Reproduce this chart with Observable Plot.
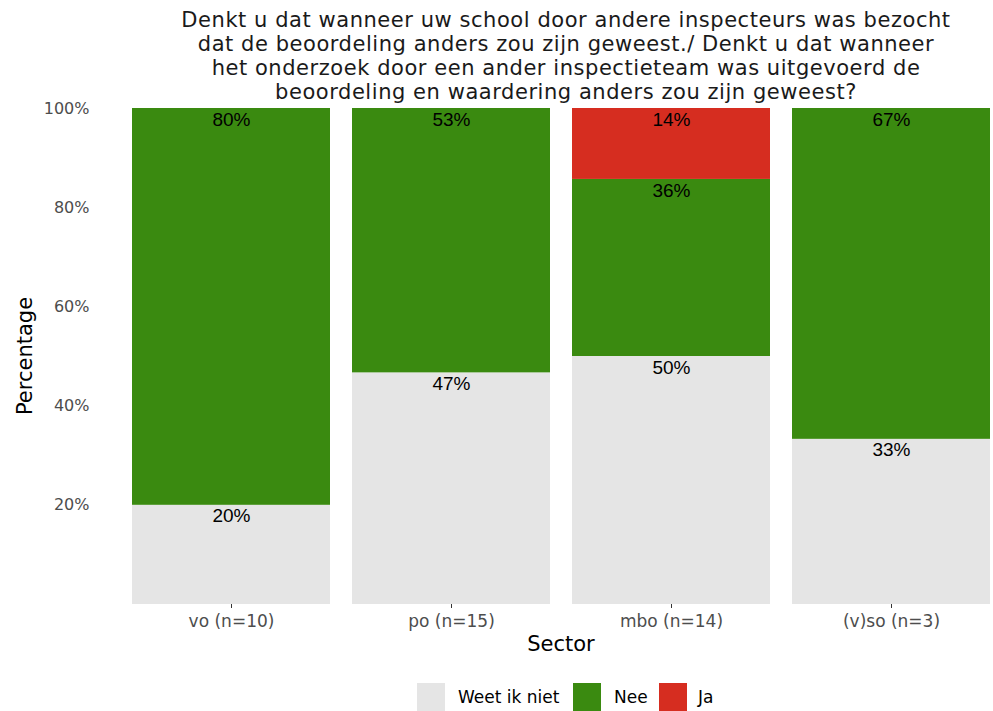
<!DOCTYPE html>
<html>
<head>
<meta charset="utf-8">
<script src="https://cdn.jsdelivr.net/npm/d3@7"></script>
<script src="https://cdn.jsdelivr.net/npm/@observablehq/plot@0.6"></script>
<style>
  html, body { margin: 0; padding: 0; background: #fff; }
  #wrap { position: relative; width: 993px; height: 711px; overflow: hidden; font-family: "DejaVu Sans", Verdana, sans-serif; }
  #title { position: absolute; z-index: 2; left: 131px; width: 870px; top: 8px; text-align: center; font-size: 21px; letter-spacing: 0.55px; line-height: 24px; color: #1a1a1a; white-space: nowrap; }
  #chart { position: absolute; left: 0; top: 100px; z-index: 1; }
  .axlab { position: absolute; font-size: 21px; color: #000; z-index: 2; }
  #legend { position: absolute; top: 683px; left: 0; width: 993px; height: 28px; }
  .key { position: absolute; top: 0; width: 28px; height: 28px; }
  .ktxt { position: absolute; top: 0; line-height: 28px; font-size: 17px; color: #000; }
</style>
</head>
<body>
<div id="wrap">
  <div id="title">Denkt u dat wanneer uw school door andere inspecteurs was bezocht<br>dat de beoordeling anders zou zijn geweest./ Denkt u dat wanneer<br>het onderzoek door een ander inspectieteam was uitgevoerd de<br>beoordeling en waardering anders zou zijn geweest?</div>
  <div id="chart"></div>
  <div class="axlab" id="ylab" style="left:25px; top:356px; transform: translate(-50%,-50%) rotate(-90deg); white-space:nowrap;">Percentage</div>
  <div class="axlab" id="xlab" style="left:561px; top:644px; transform: translate(-50%,-50%);">Sector</div>
  <div id="legend"></div>
</div>
<script>
// ---- data ----
const sectors = ["vo (n=10)", "po (n=15)", "mbo (n=14)", "(v)so (n=3)"];
const answers = ["Weet ik niet", "Nee", "Ja"];
const colors = ["#e5e5e5", "#3a8a10", "#d62d20"];
const weetIkNiet = [20, 46.7, 50, 33.3];
const nee = [80, 53.3, 35.7, 66.7];
const ja = [0, 0, 14.3, 0];
const yTicks = [20, 40, 60, 80, 100];

const series = [weetIkNiet, nee, ja];
const data = [];
sectors.forEach((s, i) => {
  answers.forEach((a, j) => {
    const v = series[j][i];
    if (v > 0) data.push({sector: s, answer: a, pct: v});
  });
});

const chart = Plot.plot({
  width: 993,
  height: 564,
  marginTop: 8,
  marginBottom: 60,
  marginLeft: 131,
  marginRight: 2,
  style: {background: "transparent"},
  x: {domain: sectors, paddingInner: 0.1, paddingOuter: 0, label: null},
  y: {domain: [0, 100], label: null},
  color: {domain: answers, range: colors},
  marks: [
    Plot.barY(data, Plot.stackY({x: "sector", y: "pct", z: "answer", fill: "answer", order: answers})),
    Plot.text(data, Plot.stackY2({
      x: "sector", y: "pct", z: "answer", order: answers,
      text: d => Math.round(d.pct) + "%",
      dy: 11, fontSize: 19, fontFamily: "Liberation Sans, Arial, sans-serif", fill: "#000"
    })),
    Plot.axisY({ticks: yTicks, tickFormat: d => d + "%", tickSize: 0, tickPadding: 42, fill: "#4d4d4d", fontSize: 16, fontFamily: "DejaVu Sans, Verdana, sans-serif", label: null}),
    Plot.axisX({tickSize: 4, tickPadding: 6, stroke: "#333", fill: "#4d4d4d", fontSize: 17, fontFamily: "DejaVu Sans, Verdana, sans-serif", label: null})
  ]
});
document.getElementById("chart").appendChild(chart);

// legend
const legend = document.getElementById("legend");
const keyX = [417, 573, 659];
const txtX = [458, 614, 698];
answers.forEach((a, i) => {
  const k = document.createElement("div");
  k.className = "key";
  k.style.left = keyX[i] + "px";
  k.style.background = colors[i];
  legend.appendChild(k);
  const t = document.createElement("div");
  t.className = "ktxt";
  t.style.left = txtX[i] + "px";
  t.textContent = a;
  legend.appendChild(t);
});
</script>
</body>
</html>
